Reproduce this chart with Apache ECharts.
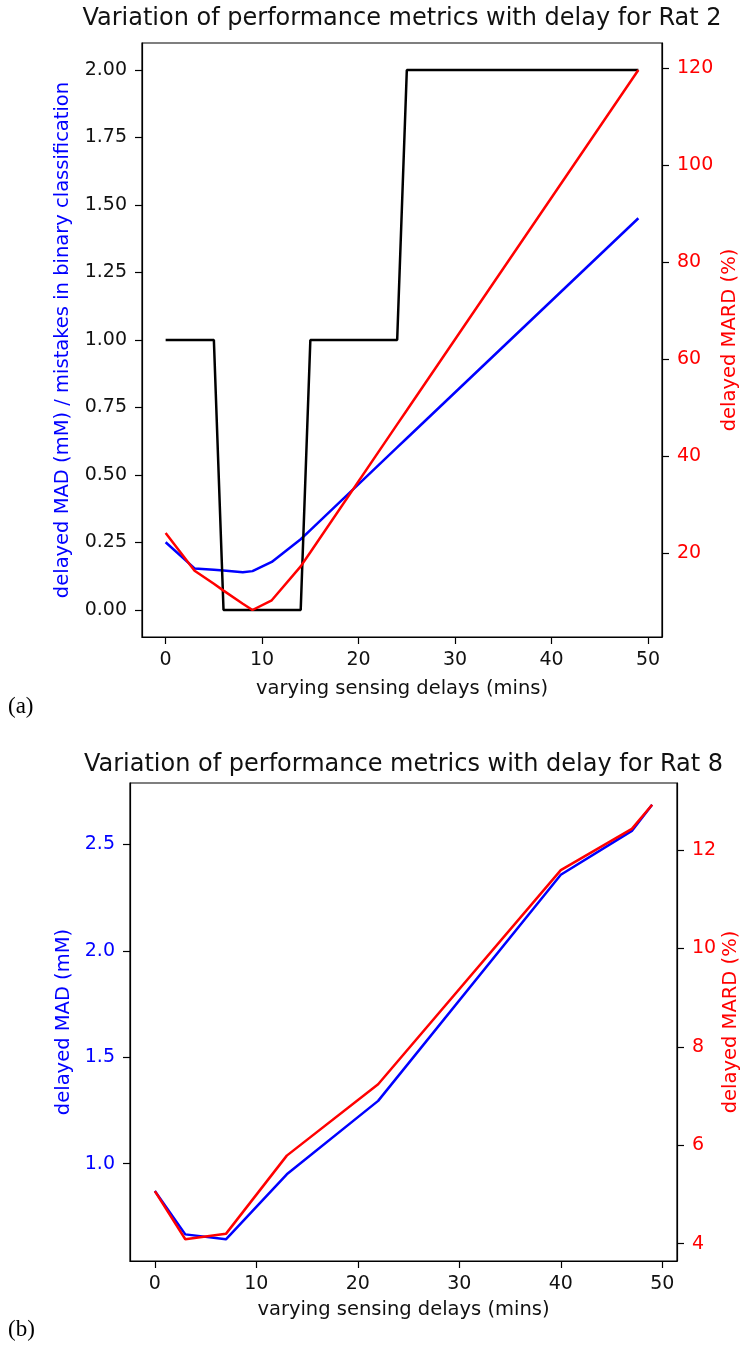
<!DOCTYPE html>
<html>
<head>
<meta charset="utf-8">
<script src="https://cdn.jsdelivr.net/npm/echarts@6/dist/echarts.min.js"></script>
<style>
  html, body { margin: 0; padding: 0; background: #fff; }
  #chart { width: 743px; height: 1347px; }
</style>
</head>
<body>
<div id="chart"></div>
<script>
// (a) Rat 2
var delaysA = [0, 3, 5, 6, 8, 9, 11, 14, 15, 24, 25, 49];
var madA = [0.251, 0.154, 0.149, 0.146, 0.140, 0.144, 0.178, 0.262, 0.296, 0.602, 0.636, 1.451];
var mistakesA = [1, 1, 1, 0, 0, 0, 0, 0, 1, 1, 2, 2];
var mardA = [24.1, 16.3, 13.6, 12.2, 9.5, 8.2, 10.2, 17.2, 20.1, 46.5, 49.4, 119.6];

// (b) Rat 8
var delaysB = [0, 3, 7, 13, 22, 40, 47, 49];
var madB = [0.872, 0.668, 0.645, 0.950, 1.295, 2.357, 2.563, 2.686];
var mardB = [5.07, 4.09, 4.20, 5.79, 7.24, 11.59, 12.43, 12.92];

// tick labels
var xTicks = [0, 10, 20, 30, 40, 50];
var leftTicksA = [0, 0.25, 0.5, 0.75, 1, 1.25, 1.5, 1.75, 2];
var rightTicksA = [20, 40, 60, 80, 100, 120];
var leftTicksB = [1.0, 1.5, 2.0, 2.5];
var rightTicksB = [4, 6, 8, 10, 12];

var FONT = 'DejaVu Sans';
var BLUE = '#0000ff', RED = '#ff0000', INK = '#111';
var TICK_SIZE = 19, LABEL_SIZE = 19.5, TITLE_SIZE = 24;

// matplotlib style 5% margins
function padded(arr) {
  var lo = Math.min.apply(null, arr), hi = Math.max.apply(null, arr);
  var r = hi - lo;
  return { min: lo - 0.05 * r, max: hi + 0.05 * r };
}
function pairs(xs, ys) {
  return xs.map(function (x, i) { return [x, ys[i]]; });
}

function xAxisFor(gridIndex, delays) {
  var p = padded(delays);
  return {
    type: 'value', gridIndex: gridIndex, min: p.min, max: p.max,
    axisLine: { onZero: false, lineStyle: { color: '#000', width: 1.2 } },
    axisTick: { customValues: xTicks, length: 7, lineStyle: { color: '#000', width: 1.2 } },
    axisLabel: { customValues: xTicks, color: INK, fontFamily: FONT, fontSize: TICK_SIZE, margin: 14 },
    splitLine: { show: false }
  };
}
function yAxisFor(gridIndex, vals, ticks, pos, color, digits) {
  var p = padded(vals);
  return {
    type: 'value', gridIndex: gridIndex, position: pos, min: p.min, max: p.max,
    axisLine: { show: true, onZero: false, lineStyle: { color: '#000', width: 1.2 } },
    axisTick: { show: true, customValues: ticks, length: 7, lineStyle: { color: '#000', width: 1.2 } },
    axisLabel: {
      customValues: ticks, color: color, fontFamily: FONT, fontSize: TICK_SIZE, margin: 15,
      formatter: function (v) { return digits != null ? v.toFixed(digits) : String(v); }
    },
    splitLine: { show: false }
  };
}
function line(name, x, y, data, color) {
  return {
    name: name, type: 'line', xAxisIndex: x, yAxisIndex: y, data: data,
    showSymbol: false, symbol: 'none', smooth: false, silent: true,
    lineStyle: { color: color, width: 2.5 }, z: 3
  };
}

var gridA = { left: 142, top: 43, width: 520, height: 594 };
var gridB = { left: 130, top: 783, width: 547, height: 478 };

var chart = echarts.init(document.getElementById('chart'), null, { renderer: 'canvas' });
chart.setOption({
  animation: false,
  backgroundColor: '#fff',
  grid: [
    Object.assign({ show: true, borderColor: '#000', borderWidth: 1.2, backgroundColor: 'transparent' }, gridA),
    Object.assign({ show: true, borderColor: '#000', borderWidth: 1.2, backgroundColor: 'transparent' }, gridB)
  ],
  xAxis: [xAxisFor(0, delaysA), xAxisFor(1, delaysB)],
  yAxis: [
    yAxisFor(0, madA.concat(mistakesA), leftTicksA, 'left', INK, 2),
    yAxisFor(0, mardA, rightTicksA, 'right', RED, null),
    yAxisFor(1, madB, leftTicksB, 'left', BLUE, 1),
    yAxisFor(1, mardB, rightTicksB, 'right', RED, null)
  ],
  series: [
    line('MAD a', 0, 0, pairs(delaysA, madA), BLUE),
    line('mistakes a', 0, 0, pairs(delaysA, mistakesA), '#000'),
    line('MARD a', 0, 1, pairs(delaysA, mardA), RED),
    line('MAD b', 1, 2, pairs(delaysB, madB), BLUE),
    line('MARD b', 1, 3, pairs(delaysB, mardB), RED)
  ],
  graphic: [
    { type: 'text', x: gridA.left + gridA.width / 2, y: 19, style: { text: 'Variation of performance metrics with delay for Rat 2', fontFamily: FONT, fontSize: TITLE_SIZE, fill: INK, align: 'center', verticalAlign: 'middle' } },
    { type: 'text', x: gridA.left + gridA.width / 2, y: 689, style: { text: 'varying sensing delays (mins)', fontFamily: FONT, fontSize: LABEL_SIZE, fill: INK, align: 'center', verticalAlign: 'middle' } },
    { type: 'text', x: 63, y: gridA.top + gridA.height / 2, rotation: Math.PI / 2, style: { text: 'delayed MAD (mM) / mistakes in binary classification', fontFamily: FONT, fontSize: LABEL_SIZE, fill: BLUE, align: 'center', verticalAlign: 'middle' } },
    { type: 'text', x: 730, y: gridA.top + gridA.height / 2, rotation: Math.PI / 2, style: { text: 'delayed MARD (%)', fontFamily: FONT, fontSize: LABEL_SIZE, fill: RED, align: 'center', verticalAlign: 'middle' } },
    { type: 'text', x: 8, y: 707, style: { text: '(a)', fontFamily: 'Liberation Serif', fontSize: 23, fill: '#000', verticalAlign: 'middle' } },

    { type: 'text', x: gridB.left + gridB.width / 2, y: 765, style: { text: 'Variation of performance metrics with delay for Rat 8', fontFamily: FONT, fontSize: TITLE_SIZE, fill: INK, align: 'center', verticalAlign: 'middle' } },
    { type: 'text', x: gridB.left + gridB.width / 2, y: 1310, style: { text: 'varying sensing delays (mins)', fontFamily: FONT, fontSize: LABEL_SIZE, fill: INK, align: 'center', verticalAlign: 'middle' } },
    { type: 'text', x: 64, y: gridB.top + gridB.height / 2, rotation: Math.PI / 2, style: { text: 'delayed MAD (mM)', fontFamily: FONT, fontSize: LABEL_SIZE, fill: BLUE, align: 'center', verticalAlign: 'middle' } },
    { type: 'text', x: 731, y: gridB.top + gridB.height / 2, rotation: Math.PI / 2, style: { text: 'delayed MARD (%)', fontFamily: FONT, fontSize: LABEL_SIZE, fill: RED, align: 'center', verticalAlign: 'middle' } },
    { type: 'text', x: 8, y: 1330, style: { text: '(b)', fontFamily: 'Liberation Serif', fontSize: 23, fill: '#000', verticalAlign: 'middle' } }
  ]
});
</script>
</body>
</html>
